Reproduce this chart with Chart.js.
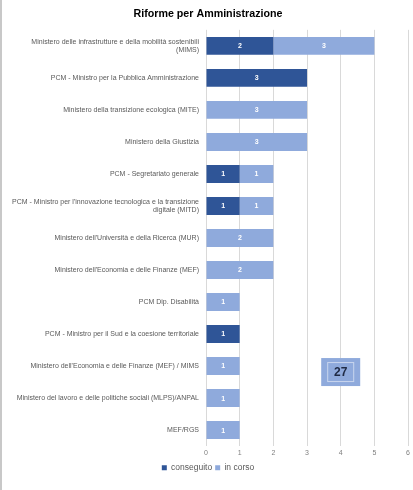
<!DOCTYPE html>
<html>
<head>
<meta charset="utf-8">
<script src="https://cdn.jsdelivr.net/npm/chart.js@4"></script>
<style>
  html, body { margin: 0; padding: 0; background: #fff; }
  #wrap { position: relative; width: 413px; height: 490px; border-left: 2px solid #c8c8c8; box-sizing: border-box; }
</style>
</head>
<body>
<div id="wrap"><canvas id="chart" width="411" height="490"></canvas></div>
<script>
// Categories and series
const categories = [
  ['Ministero delle infrastrutture e della mobilità sostenibili', '(MIMS)'],
  'PCM - Ministro per la Pubblica Amministrazione',
  'Ministero della transizione ecologica (MITE)',
  'Ministero della Giustizia',
  'PCM - Segretariato generale',
  ["PCM - Ministro per l'innovazione tecnologica e la transizione", 'digitale (MITD)'],
  "Ministero dell'Università e della Ricerca (MUR)",
  "Ministero dell'Economia e delle Finanze (MEF)",
  'PCM Dip. Disabilità',
  'PCM - Ministro per il Sud e la coesione territoriale',
  "Ministero dell'Economia e delle Finanze (MEF) / MIMS",
  'Ministero del lavoro e delle politiche sociali (MLPS)/ANPAL',
  'MEF/RGS'
];
const conseguito = [2, 3, 0, 0, 1, 1, 0, 0, 0, 1, 0, 0, 0];
const inCorso = [3, 0, 3, 3, 1, 1, 2, 2, 1, 0, 1, 1, 1];
const xTicks = [0, 1, 2, 3, 4, 5, 6];
const totale = 27;

// value labels inside the bars
const barLabels = {
  id: 'barLabels',
  afterDatasetsDraw(chart) {
    const ctx = chart.ctx;
    ctx.save();
    ctx.font = 'bold 7px "Liberation Sans", sans-serif';
    ctx.fillStyle = '#ffffff';
    ctx.textAlign = 'center';
    ctx.textBaseline = 'middle';
    chart.data.datasets.forEach((ds, i) => {
      chart.getDatasetMeta(i).data.forEach((bar, j) => {
        const v = ds.data[j];
        if (!v) return;
        const p = bar.getProps(['x', 'y', 'base']);
        ctx.fillText(String(v), (p.x + p.base) / 2, p.y + 0.5);
      });
    });
    ctx.restore();
  }
};

// total box
const totalBox = {
  id: 'totalBox',
  afterDraw(chart) {
    const ctx = chart.ctx;
    const x = chart.scales.x.getPixelForValue(4);
    const y = chart.scales.y.getPixelForValue(10) + 6;
    const w = 39, h = 28;
    ctx.save();
    ctx.fillStyle = '#8faadc';
    ctx.fillRect(x - w / 2, y - h / 2, w, h);
    ctx.strokeStyle = '#c9d6ee';
    ctx.lineWidth = 1;
    ctx.strokeRect(x - w / 2 + 6.5, y - h / 2 + 4.5, w - 13, h - 9);
    ctx.fillStyle = '#1f2a44';
    ctx.font = 'bold 12px "Liberation Sans", sans-serif';
    ctx.textAlign = 'center';
    ctx.textBaseline = 'middle';
    ctx.fillText(String(totale), x, y + 1);
    ctx.restore();
  }
};

new Chart(document.getElementById('chart'), {
  type: 'bar',
  data: {
    labels: categories,
    datasets: [{
      label: 'conseguito',
      data: conseguito,
      backgroundColor: '#2f5597',
      barPercentage: 0.56,
      categoryPercentage: 1
    }, {
      label: 'in corso',
      data: inCorso,
      backgroundColor: '#8faadc',
      barPercentage: 0.56,
      categoryPercentage: 1
    }]
  },
  plugins: [barLabels, totalBox],
  options: {
    indexAxis: 'y',
    responsive: false,
    animation: false,
    layout: { padding: { left: 4, right: 3, top: 0, bottom: 8 } },
    plugins: {
      title: {
        display: true,
        text: 'Riforme per Amministrazione',
        color: '#000',
        font: { family: '"Liberation Sans", sans-serif', size: 10.7, weight: 'bold' },
        padding: { top: 8, bottom: 9 }
      },
      legend: {
        position: 'bottom',
        labels: {
          boxWidth: 5,
          boxHeight: 5,
          padding: 3,
          color: '#595959',
          font: { family: '"Liberation Sans", sans-serif', size: 8.5 }
        }
      },
      tooltip: { enabled: false }
    },
    scales: {
      x: {
        stacked: true,
        min: 0,
        max: 6,
        afterBuildTicks: (scale) => { scale.ticks = xTicks.map(v => ({ value: v })); },
        grid: { color: '#d9d9d9', drawTicks: false },
        border: { display: false },
        ticks: {
          color: '#7f7f7f',
          padding: 3,
          font: { family: '"Liberation Sans", sans-serif', size: 7 }
        }
      },
      y: {
        stacked: true,
        grid: { display: false, drawTicks: false },
        border: { display: false },
        afterFit: (scale) => { scale.width = 200; },
        ticks: {
          color: '#595959',
          padding: 7,
          autoSkip: false,
          font: { family: '"Liberation Sans", sans-serif', size: 7 }
        }
      }
    }
  }
});
</script>
</body>
</html>
